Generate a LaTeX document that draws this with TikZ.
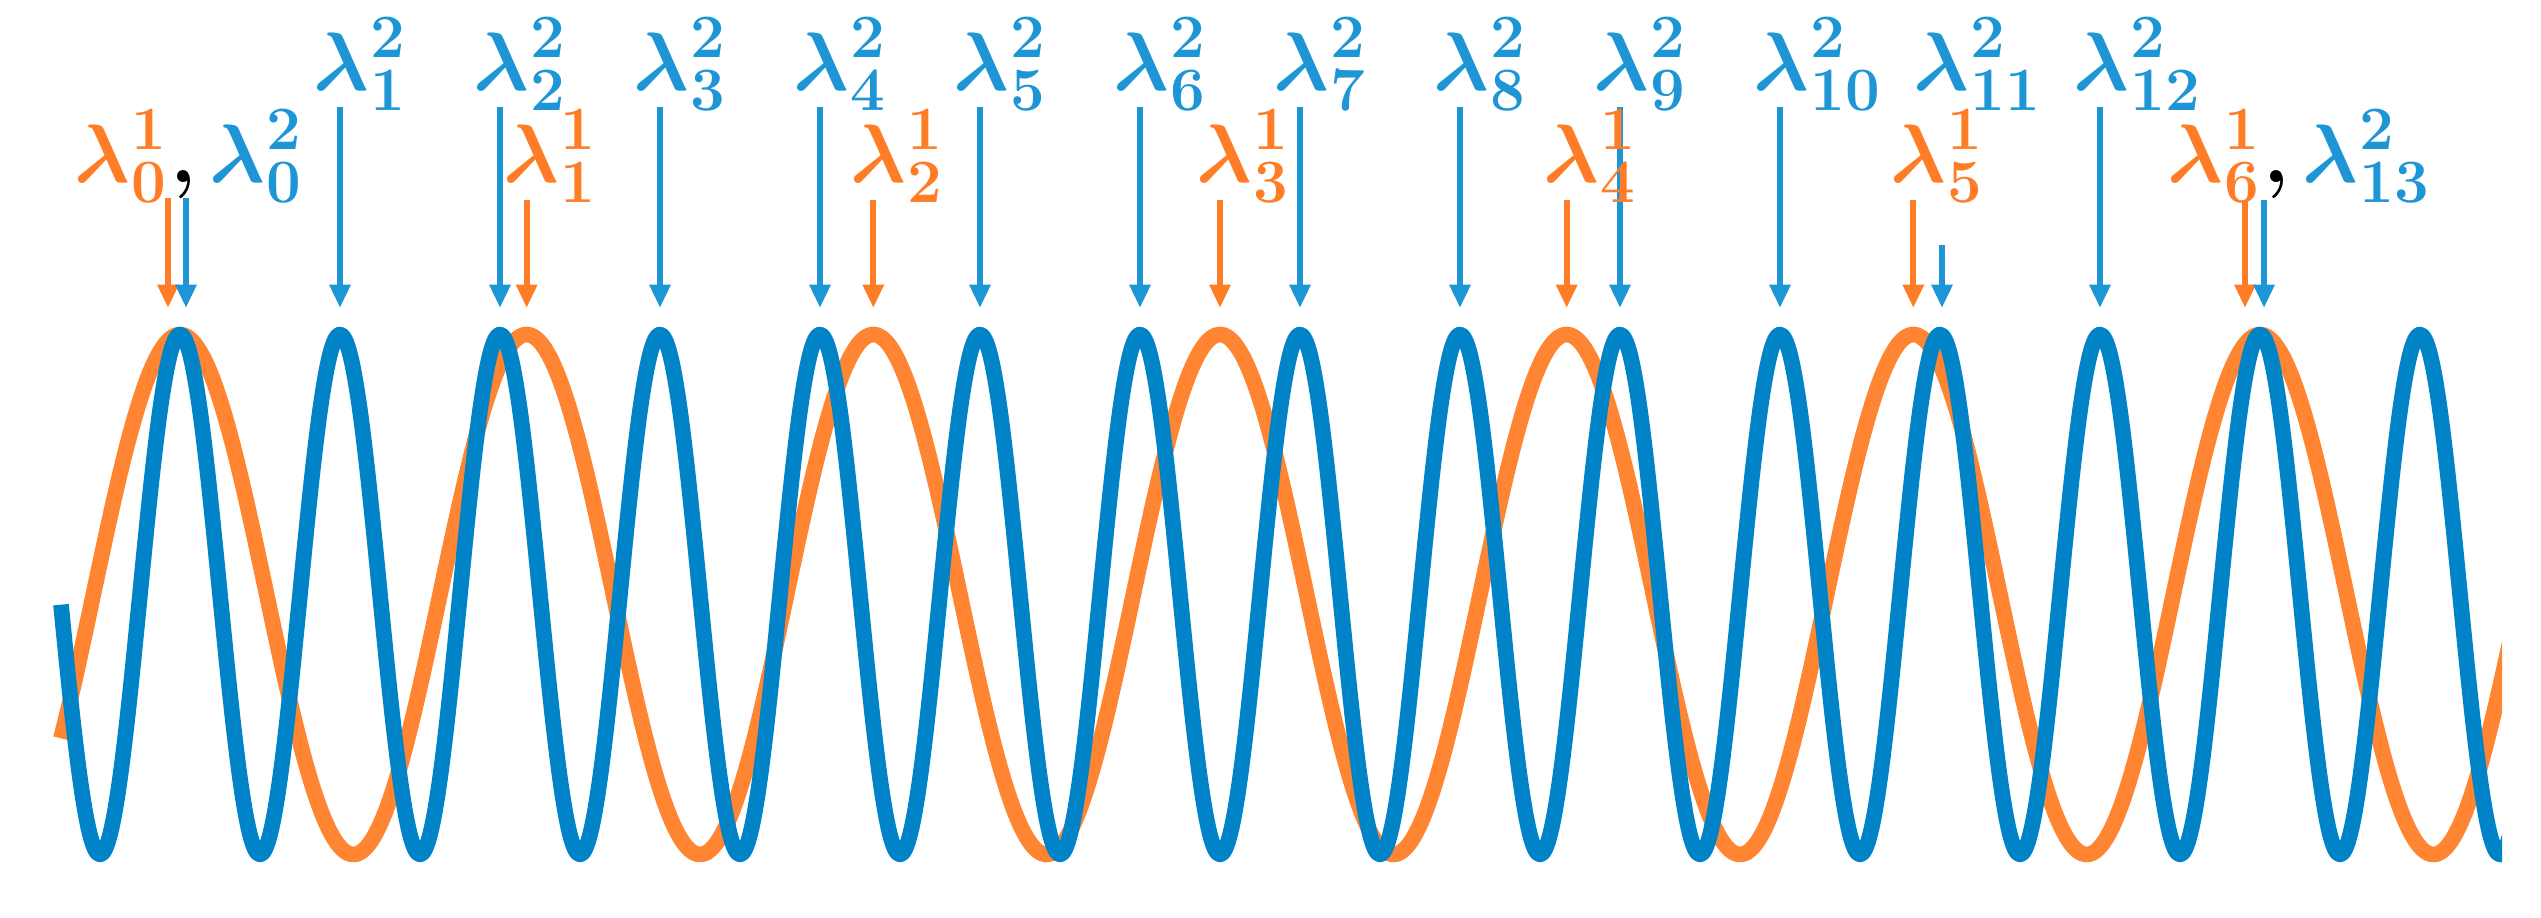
\documentclass[tikz,border=0pt]{standalone}
\usepackage{amsmath}
\usepackage{fontspec}
\usetikzlibrary{arrows.meta}
\definecolor{wblue}{RGB}{0,132,199}
\definecolor{worange}{RGB}{255,133,51}
\definecolor{lblue}{RGB}{30,150,214}
\definecolor{lorange}{RGB}{255,125,38}
\newcommand\lamsym{{\fontsize{25}{25}\selectfont$\boldsymbol{\lambda}$}}
\newcommand\digs[1]{{\fontsize{18.5}{18.5}\selectfont\bfseries #1}}
\newcommand\lamlab[2]{\lamsym\kern0.5pt\makebox[0pt][l]{\raisebox{10pt}{\digs{#1}}}\raisebox{-6pt}{\digs{#2}}}
\newcommand\lamcomma{{\fontsize{25}{25}\selectfont\bfseries ,}}
\tikzset{
  lab/.style={inner sep=0pt, anchor=base west},
  bl/.style={lab, text=lblue},
  ol/.style={lab, text=lorange},
  barr/.style={draw=lblue, line width=1.8pt, -{Triangle[width=6pt,length=7pt]}},
  oarr/.style={draw=lorange, line width=1.8pt, -{Triangle[width=6pt,length=7pt]}},
  wave/.style={line width=4.7pt, line join=round, line cap=butt}
}
\begin{document}
\begin{tikzpicture}[x=0.3pt, y=-0.3pt]
\useasboundingbox (0,0) rectangle (2541,918);
\fill[white] (0,0) rectangle (2541,918);
% waves
\begin{scope}
\clip (0,0) rectangle (2502,918);
\draw[wave, worange, domain=61:2520, samples=500, smooth] plot (\x, {594.5-260*cos((\x-180)/346.667*360)});
\draw[wave, wblue, domain=61:2520, samples=1000, smooth] plot (\x, {594.5-260*cos((\x-180)/160*360)});
\end{scope}
% blue labels, top row
\foreach \k in {1,...,10,12} {
  \pgfmathsetmacro\ax{180+160*\k}
  \node[bl] (b\k) at (\ax-27,91) {\lamlab{2}{\k}};
  \coordinate (bs\k) at (\ax,107);
  \coordinate (be\k) at (\ax,308);
  \draw[barr] (bs\k) -- (be\k);
}
\node[bl] (b11) at (1913,91) {\lamlab{2}{11}};
\coordinate (bs11) at (1942,245);
\coordinate (be11) at (1942,308);
\draw[barr] (bs11) -- (be11);
% orange labels
\foreach \j in {1,...,5} {
  \pgfmathsetmacro\ax{180+346.667*\j}
  \node[ol] (o\j) at (\ax-24,183) {\lamlab{1}{\j}};
  \coordinate (os\j) at (\ax,200);
  \coordinate (oe\j) at (\ax,308);
  \draw[oarr] (os\j) -- (oe\j);
}
% combined labels
\node[lab] (c0) at (74,183) {{\color{lorange}\lamlab{1}{0}}\kern1pt\lamcomma\kern4pt{\color{lblue}\lamlab{2}{0}}};
\coordinate (os0) at (168,198);
\coordinate (oe0) at (168,308);
\coordinate (bs0) at (186,198);
\coordinate (be0) at (186,308);
\draw[oarr] (os0) -- (oe0);
\draw[barr] (bs0) -- (be0);
\node[lab] (c6) at (2167,183) {{\color{lorange}\lamlab{1}{6}}\kern1pt\lamcomma\kern4pt{\color{lblue}\lamlab{2}{13}}};
\coordinate (os6) at (2245,200);
\coordinate (oe6) at (2245,308);
\coordinate (bs13) at (2264,200);
\coordinate (be13) at (2264,308);
\draw[oarr] (os6) -- (oe6);
\draw[barr] (bs13) -- (be13);
\end{tikzpicture}
\end{document}
